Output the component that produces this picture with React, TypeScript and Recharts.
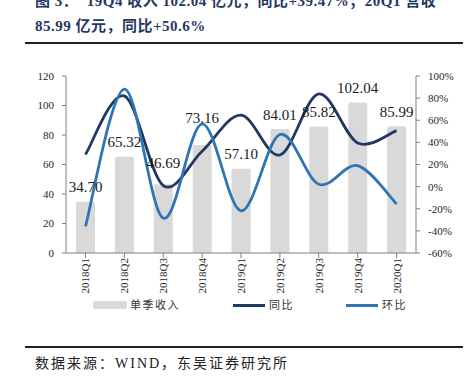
import React from 'react';
import { ComposedChart, Bar, Line, XAxis, YAxis, Legend, LabelList } from 'recharts';

// 季度
const QUARTERS = ['2018Q1', '2018Q2', '2018Q3', '2018Q4', '2019Q1', '2019Q2', '2019Q3', '2019Q4', '2020Q1'];
// 单季收入（亿元）
const REVENUE = [34.7, 65.32, 46.69, 73.16, 57.1, 84.01, 85.82, 102.04, 85.99];
// 同比 %
const YOY = [29, 82, 1, 32, 64.6, 28.6, 83.8, 39.5, 50.6];
// 环比 %
const QOQ = [-36, 88.2, -28.5, 56.7, -21.9, 47.1, 2.2, 18.9, -15.7];

const LEFT_TICKS = [0, 20, 40, 60, 80, 100, 120];
const RIGHT_TICKS = [-60, -40, -20, 0, 20, 40, 60, 80, 100];

const NAVY = '#1f3864';
const BLUE = '#2e75b6';
const GREY_BAR = '#d9d9d9';
const AXIS = '#808080';
const SERIF = "'Liberation Serif', 'Times New Roman', serif";
const CJK = "'Liberation Serif', 'Noto Sans CJK SC', serif";

const data = QUARTERS.map((q, i) => ({
  q,
  revenue: REVENUE[i],
  yoy: YOY[i],
  qoq: QOQ[i],
}));

// Excel 风格平滑线（均匀 Catmull-Rom 转三次贝塞尔）
const excelSmooth = (context: any) => {
  let pts: number[][] = [];
  return {
    areaStart() {},
    areaEnd() {},
    lineStart() {
      pts = [];
    },
    point(x: number, y: number) {
      pts.push([+x, +y]);
    },
    lineEnd() {
      if (!pts.length) return;
      context.moveTo(pts[0][0], pts[0][1]);
      for (let i = 0; i < pts.length - 1; i++) {
        const p0 = pts[i - 1] || pts[i];
        const p1 = pts[i];
        const p2 = pts[i + 1];
        const p3 = pts[i + 2] || p2;
        context.bezierCurveTo(
          p1[0] + (p2[0] - p0[0]) / 6,
          p1[1] + (p2[1] - p0[1]) / 6,
          p2[0] - (p3[0] - p1[0]) / 6,
          p2[1] - (p3[1] - p1[1]) / 6,
          p2[0],
          p2[1]
        );
      }
    },
  };
};

const BarValueLabel = (props: any) => {
  const { x, y, width, value, index } = props;
  // 46.69 和 73.16 的标签在原图中被抬高，避开折线
  const lift = index === 2 ? 7 : index === 3 ? 13 : 0;
  return (
    <text
      x={x + width / 2}
      y={y - 9.5 - lift}
      textAnchor="middle"
      fontFamily={SERIF}
      fontSize={15}
      fill="#1a1a1a"
    >
      {Number(value).toFixed(2)}
    </text>
  );
};

const RotatedTick = (props: any) => {
  const { x, y, payload } = props;
  return (
    <text
      transform={`translate(${x}, ${y}) rotate(-90)`}
      textAnchor="end"
      dominantBaseline="central"
      fontFamily={SERIF}
      fontSize={11}
      fill="#262626"
    >
      {payload.value}
    </text>
  );
};

const LegendBox = () => (
  <div style={{ position: 'relative', width: 472, height: 20, fontFamily: CJK, fontSize: 11, color: '#333' }}>
    <div style={{ position: 'absolute', left: 93, top: 6, width: 34, height: 8, background: GREY_BAR, borderRadius: 2 }} />
    <span style={{ position: 'absolute', left: 130, top: 2, letterSpacing: 1.5, lineHeight: '16px' }}>单季收入</span>
    <div style={{ position: 'absolute', left: 233, top: 9, width: 32, height: 3, background: NAVY }} />
    <span style={{ position: 'absolute', left: 269, top: 2, letterSpacing: 1.5, lineHeight: '16px' }}>同比</span>
    <div style={{ position: 'absolute', left: 346, top: 9, width: 32, height: 3, background: BLUE }} />
    <span style={{ position: 'absolute', left: 382, top: 2, letterSpacing: 1.5, lineHeight: '16px' }}>环比</span>
  </div>
);

const titleStyle: React.CSSProperties = {
  position: 'absolute',
  left: 35,
  whiteSpace: 'nowrap',
  fontFamily: CJK,
  fontWeight: 700,
  fontSize: 15,
  lineHeight: '18px',
  letterSpacing: 0.5,
  color: NAVY,
};

export default function App() {
  return (
    <div style={{ position: 'absolute', left: 0, top: 0, width: 472, height: 386, overflow: 'hidden', background: '#fff' }}>
      <div style={{ ...titleStyle, top: -8 }}>
        图 3：&nbsp;&nbsp;19Q4 收入 102.04 亿元，同比+39.47%；20Q1 营收
      </div>
      <div style={{ ...titleStyle, top: 17 }}>85.99 亿元，同比+50.6%</div>
      <div style={{ position: 'absolute', left: 25, top: 42, width: 438, height: 2, background: '#222' }} />

      <div style={{ position: 'absolute', left: 0, top: 0 }}>
        <ComposedChart
          width={472}
          height={315}
          data={data}
          margin={{ top: 76, right: 0, bottom: 0, left: 0 }}
        >
          <XAxis
            dataKey="q"
            height={42}
            interval={0}
            tick={<RotatedTick />}
            tickSize={5}
            tickMargin={0}
            axisLine={{ stroke: AXIS }}
            tickLine={{ stroke: AXIS }}
          />
          <YAxis
            yAxisId="left"
            orientation="left"
            width={66}
            domain={[0, 120]}
            ticks={LEFT_TICKS}
            interval={0}
            tickSize={4}
            tickMargin={8}
            axisLine={{ stroke: AXIS }}
            tickLine={{ stroke: AXIS }}
            tick={{ fontFamily: SERIF, fontSize: 11, fill: '#262626' }}
          />
          <YAxis
            yAxisId="right"
            orientation="right"
            width={56}
            domain={[-60, 100]}
            ticks={RIGHT_TICKS}
            interval={0}
            tickSize={4}
            tickMargin={8}
            axisLine={{ stroke: AXIS }}
            tickLine={{ stroke: AXIS }}
            tickFormatter={(v: number) => `${v}%`}
            tick={{ fontFamily: SERIF, fontSize: 11, fill: '#262626' }}
          />
          <Legend verticalAlign="bottom" content={<LegendBox />} />
          <Bar yAxisId="left" dataKey="revenue" name="单季收入" fill={GREY_BAR} barSize={19} radius={[2, 2, 0, 0]} isAnimationActive={false}>
            <LabelList dataKey="revenue" content={<BarValueLabel />} />
          </Bar>
          <Line
            yAxisId="right"
            type={excelSmooth as any}
            dataKey="yoy"
            name="同比"
            stroke={NAVY}
            strokeWidth={2.8}
            dot={false}
            isAnimationActive={false}
          />
          <Line
            yAxisId="right"
            type={excelSmooth as any}
            dataKey="qoq"
            name="环比"
            stroke={BLUE}
            strokeWidth={2.8}
            dot={false}
            isAnimationActive={false}
          />
        </ComposedChart>
      </div>

      <div style={{ position: 'absolute', left: 25, top: 346, width: 438, height: 2, background: '#222' }} />
      <div
        style={{
          position: 'absolute',
          left: 35,
          top: 355,
          whiteSpace: 'nowrap',
          fontFamily: CJK,
          fontSize: 14,
          lineHeight: '18px',
          letterSpacing: 2,
          color: '#222',
        }}
      >
        数据来源：WIND，东吴证券研究所
      </div>
    </div>
  );
}
